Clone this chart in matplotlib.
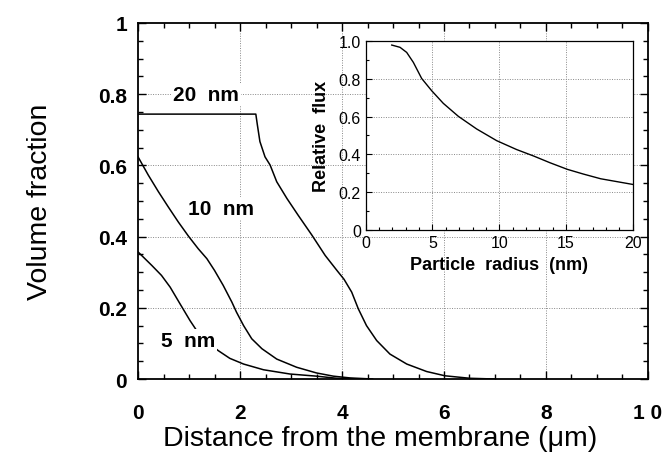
import numpy as np
import matplotlib.pyplot as plt
from matplotlib.ticker import MultipleLocator, FixedLocator

plt.rcParams['font.family'] = ['Liberation Sans', 'DejaVu Sans']

# volume fraction profiles vs distance from membrane (um)
x_20nm = [0, 2.31, 2.34, 2.39, 2.49, 2.59, 2.72, 2.92, 3.14, 3.41, 3.67, 3.90, 4.04,
          4.19, 4.32, 4.48, 4.68, 4.94, 5.27, 5.66, 6.02, 6.51, 7.0]
y_20nm = [0.744, 0.744, 0.714, 0.667, 0.624, 0.601, 0.554, 0.507, 0.460, 0.404, 0.347,
          0.305, 0.280, 0.244, 0.197, 0.150, 0.108, 0.070, 0.042, 0.021, 0.009, 0.002, 0.0]

x_10nm = [0, 0.20, 0.40, 0.59, 0.79, 0.99, 1.18, 1.35, 1.50, 1.67, 1.84, 1.93, 2.07,
          2.23, 2.43, 2.72, 3.11, 3.50, 3.83, 4.16, 4.6]
y_10nm = [0.624, 0.573, 0.526, 0.484, 0.441, 0.401, 0.366, 0.338, 0.305, 0.263, 0.216,
          0.188, 0.150, 0.113, 0.085, 0.056, 0.033, 0.017, 0.008, 0.003, 0.0]

x_5nm = [0, 0.27, 0.46, 0.63, 0.82, 1.02, 1.15, 1.35, 1.57, 1.80, 2.07, 2.46, 2.98,
         3.50, 3.90, 4.4]
y_5nm = [0.357, 0.319, 0.291, 0.258, 0.212, 0.164, 0.136, 0.105, 0.080, 0.058, 0.042,
         0.026, 0.014, 0.008, 0.002, 0.0]

# relative flux vs particle radius (nm)
radius = [1.95, 2.57, 3.07, 3.57, 4.19, 4.94, 5.81, 6.94, 8.31, 9.81, 11.3, 12.6, 13.8,
          15.1, 16.3, 17.6, 18.8, 20]
flux = [0.979, 0.967, 0.940, 0.887, 0.802, 0.737, 0.670, 0.601, 0.534, 0.472, 0.425,
        0.39, 0.355, 0.32, 0.295, 0.27, 0.255, 0.24]

main_xticks = [0, 2, 4, 6, 8, 10]
main_xlabels = ['0', '2', '4', '6', '8', '1 0']
main_yticks = [0, 0.2, 0.4, 0.6, 0.8, 1.0]
main_ylabels = ['0', '0.2', '0.4', '0.6', '0.8', '1']
ins_xticks = [0, 5, 10, 15, 20]
ins_yticks = [0, 0.2, 0.4, 0.6, 0.8, 1.0]
ins_ylabels = ['0', '0.2', '0.4', '0.6', '0.8', '1.0']

fig = plt.figure(figsize=(6.71, 4.60), dpi=100)
ax = fig.add_axes([0.2057, 0.1739, 0.760, 0.774])

grid_kw = dict(color='#888888', linestyle=(0, (1, 1.5)), linewidth=0.7)
for gx in main_xticks[1:-1]:
    ax.axvline(gx, zorder=0, **grid_kw)
for gy in main_yticks[1:-1]:
    ax.axhline(gy, zorder=0, **grid_kw)

line_kw = dict(color='black', lw=1.1, zorder=2, solid_joinstyle='round')
ax.plot(x_20nm, y_20nm, **line_kw)
ax.plot(x_10nm, y_10nm, **line_kw)
ax.plot(x_5nm, y_5nm, **line_kw)

lab_kw = dict(fontsize=15, fontweight='bold', ha='center', va='center', zorder=3,
              bbox=dict(facecolor='white', edgecolor='none', pad=1.5))
ax.text(1.33, 0.80, '20  nm', **lab_kw)
ax.text(1.62, 0.479, '10  nm', **lab_kw)
ax.text(0.98, 0.108, '5  nm', **lab_kw)

ax.set_xlim(0, 10)
ax.set_ylim(0, 1)
ax.xaxis.set_major_locator(FixedLocator(main_xticks))
ax.set_xticklabels(main_xlabels)
ax.yaxis.set_major_locator(FixedLocator(main_yticks))
ax.set_yticklabels(main_ylabels)
ax.xaxis.set_minor_locator(MultipleLocator(0.5))
ax.yaxis.set_minor_locator(MultipleLocator(0.05))
ax.tick_params(which='both', direction='in', top=True, right=True, width=1.0)
ax.tick_params(which='major', length=6)
ax.tick_params(which='minor', length=3.5)
ax.tick_params(axis='x', which='major', pad=17, labelsize=15)
ax.tick_params(axis='y', which='major', pad=8, labelsize=15)
for t in ax.get_xticklabels() + ax.get_yticklabels():
    t.set_fontweight('bold')
for s in ax.spines.values():
    s.set_linewidth(1.3)

ax.set_xlabel('Distance from the membrane (\u03bcm)', fontsize=20.5)
ax.xaxis.set_label_coords(0.475, -0.128)
ax.set_ylabel('Volume fraction', fontsize=20.5, labelpad=32)

# inset: relative flux
ins = fig.add_axes([0.545, 0.4985, 0.398, 0.410])
ins.set_facecolor('white')
for gx in ins_xticks[1:-1]:
    ins.axvline(gx, zorder=0, **grid_kw)
for gy in ins_yticks[1:-1]:
    ins.axhline(gy, zorder=0, **grid_kw)
ins.plot(radius, flux, color='black', lw=1.0, solid_joinstyle='round')
ins.set_xlim(0, 20)
ins.set_ylim(0, 1.0)
ins.xaxis.set_major_locator(FixedLocator(ins_xticks))
ins.yaxis.set_major_locator(FixedLocator(ins_yticks))
ins.set_yticklabels(ins_ylabels)
ins.xaxis.set_minor_locator(MultipleLocator(1))
ins.yaxis.set_minor_locator(MultipleLocator(0.1))
ins.tick_params(which='both', direction='in', labelsize=11.5, width=0.8)
ins.tick_params(which='major', length=4)
ins.tick_params(which='minor', length=2.5)
for s in ins.spines.values():
    s.set_linewidth(0.9)
ins.set_xlabel('Particle  radius  (nm)', fontsize=13, fontweight='bold', labelpad=5)
ins.set_ylabel('Relative  flux', fontsize=13, fontweight='bold', labelpad=6)

fig.savefig('out.png', dpi=100)
